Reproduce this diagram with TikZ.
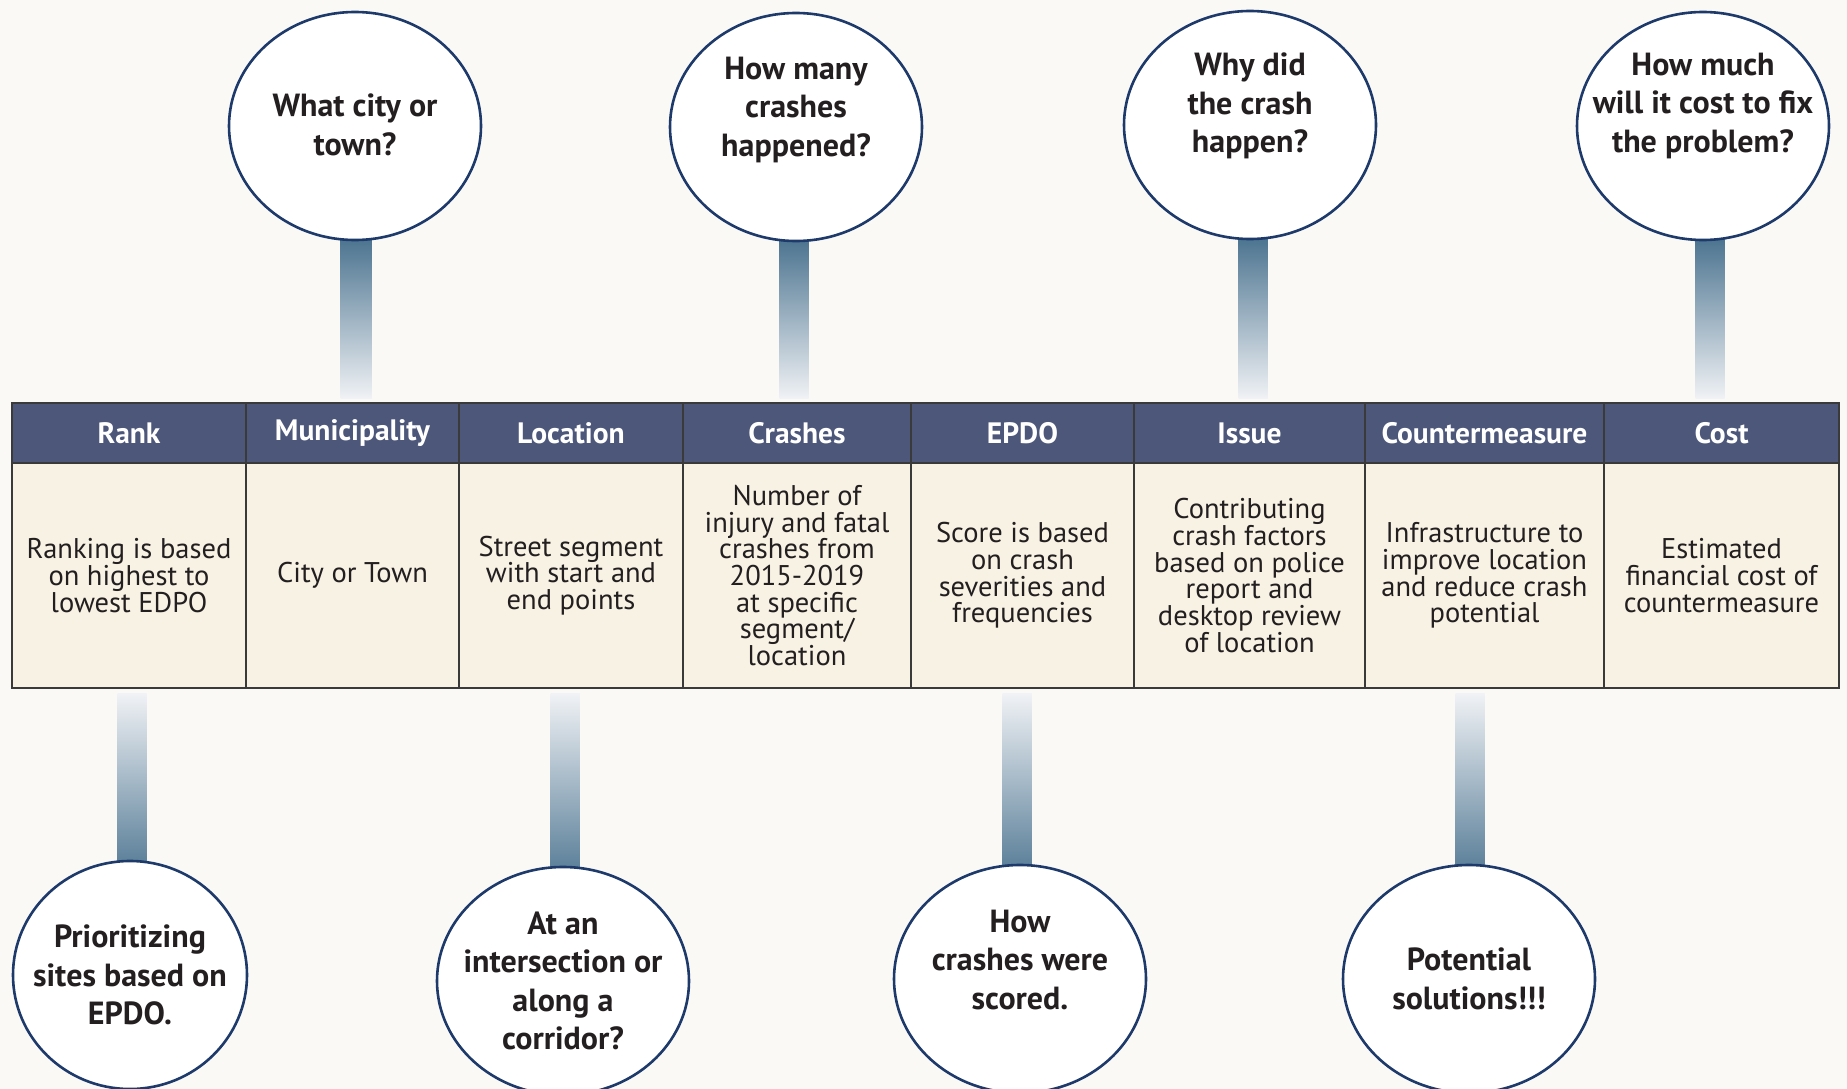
\documentclass[tikz,border=0pt]{standalone}
\usepackage{fontspec}
\setmainfont{PT Sans}
\usetikzlibrary{shapes.geometric,calc}
\definecolor{bg}{HTML}{FAF9F6}
\definecolor{hdr}{HTML}{4D577A}
\definecolor{cream}{HTML}{F8F2E4}
\definecolor{navy}{HTML}{1D3A6B}
\definecolor{stemdark}{HTML}{3F6A88}
\definecolor{stemlight}{HTML}{F0F2F5}
\definecolor{ink}{HTML}{231F20}
\definecolor{gridc}{HTML}{3A3A3A}
\begin{document}
\begin{tikzpicture}[x=1pt,y=-1pt,
  hcell/.style={draw=gridc,line width=1.2pt,fill=hdr,text=white,
    font=\bfseries\fontsize{29.5}{32}\selectfont,minimum height=60,minimum width=#1,inner sep=0},
  bcell/.style={draw=gridc,line width=1.2pt,fill=cream,text=ink,align=center,
    font=\fontsize{28.5}{26.7}\selectfont,minimum height=225,minimum width=#1,inner sep=0},
  bubble/.style={ellipse,draw=navy,line width=2.6pt,fill=white,minimum width=#1,minimum height=228,inner sep=0},
  qtext/.style={text=ink,align=center,font=\bfseries\fontsize{32}{38.5}\selectfont,inner sep=0},
  stemdown/.style={top color=stemdark,bottom color=stemlight},
  stemup/.style={top color=stemlight,bottom color=stemdark!90!white}]
\fill[bg] (0,0) rectangle (1847,1089);
\useasboundingbox (0,0) rectangle (1847,1089);

\path (355,126) coordinate (p1) (796,127) coordinate (p2) (1250,125) coordinate (p3) (1703,126) coordinate (p4);
\path (130,975) coordinate (q1) (563,981) coordinate (q2) (1020,979) coordinate (q3) (1469,979) coordinate (q4);

% table nodes
\node[hcell=234] (h1) at (129,433) {Rank};
\node[hcell=213] (h2) at (352.5,433) {Municipality};
\node[hcell=224] (h3) at (571,433) {Location};
\node[hcell=228] (h4) at (797,433) {Crashes};
\node[hcell=223] (h5) at (1022.5,433) {EPDO};
\node[hcell=231] (h6) at (1249.5,433) {Issue};
\node[hcell=239] (h7) at (1484.5,433) {Countermeasure};
\node[hcell=235] (h8) at (1721.5,433) {Cost};

\node[bcell=234] (d1) at (129,575.5) {Ranking is based\\on highest to\\lowest EDPO};
\node[bcell=213] (d2) at (352.5,575.5) {City or Town};
\node[bcell=224] (d3) at (571,575.5) {Street segment\\with start and\\end points};
\node[bcell=228] (d4) at (797,575.5) {Number of\\injury and fatal\\crashes from\\2015-2019\\at specific\\segment/\\location};
\node[bcell=223] (d5) at (1022.5,575.5) {Score is based\\on crash\\severities and\\frequencies};
\node[bcell=231] (d6) at (1249.5,575.5) {Contributing\\crash factors\\based on police\\report and\\desktop review\\of location};
\node[bcell=239] (d7) at (1484.5,575.5) {Infrastructure to\\improve location\\and reduce crash\\potential};
\node[bcell=235] (d8) at (1721.5,575.5) {Estimated\\financial cost of\\countermeasure};

% stems (top): from bubble to header
\shade[stemdown] ($(p1)+(-14.5,100)$) rectangle ($(h2.north -| p1)+(16.5,-4)$);
\shade[stemdown] ($(p2)+(-16.5,100)$) rectangle ($(h4.north -| p2)+(12.5,-4)$);
\shade[stemdown] ($(p3)+(-11.5,100)$) rectangle ($(h6.north -| p3)+(17.5,-4)$);
\shade[stemdown] ($(p4)+(-7.5,100)$) rectangle ($(h8.north -| p4)+(21.5,-4)$);
% stems (bottom): from body to bubble
\shade[stemup] ($(d1.south -| q1)+(-12.5,5)$) rectangle ($(q1)+(16.5,-100)$);
\shade[stemup] ($(d3.south -| q2)+(-12.5,5)$) rectangle ($(q2)+(16.5,-100)$);
\shade[stemup] ($(d5.south -| q3)+(-17.5,5)$) rectangle ($(q3)+(11.5,-100)$);
\shade[stemup] ($(d7.south -| q4)+(-13.5,5)$) rectangle ($(q4)+(15.5,-100)$);

% bubbles
\node[bubble=252] (c1) at (p1) {};
\node[bubble=252] (c2) at (p2) {};
\node[bubble=252] (c3) at (p3) {};
\node[bubble=252] (c4) at (p4) {};
\node[bubble=234] (b1) at (q1) {};
\node[bubble=252] (b2) at (q2) {};
\node[bubble=252] (b3) at (q3) {};
\node[bubble=252] (b4) at (q4) {};

\node[qtext] (t1) at ($(c1.center)+(0,-1)$) {What city or\\town?};
\node[qtext] (t2) at ($(c2.center)+(0,-17)$) {How many\\crashes\\happened?};
\node[qtext] (t3) at ($(c3.center)+(0,-19)$) {Why did\\the crash\\happen?};
\node[qtext] (t4) at ($(c4.center)+(0,-20)$) {How much\\will it cost to fix\\the problem?};
\node[qtext] (u1) at ($(b1.center)+(0,0)$) {Prioritizing\\sites based on\\EPDO.};
\node[qtext] (u2) at ($(b2.center)+(0,0)$) {At an\\intersection or\\along a\\corridor?};
\node[qtext] (u3) at ($(b3.center)+(0,-19)$) {How\\crashes were\\scored.};
\node[qtext] (u4) at ($(b4.center)+(0,0)$) {Potential\\solutions!!!};
\end{tikzpicture}
\end{document}
